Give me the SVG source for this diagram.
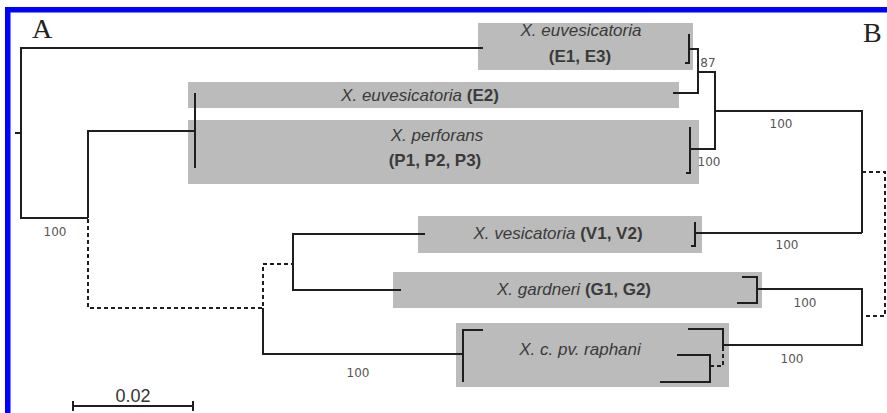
<svg xmlns="http://www.w3.org/2000/svg" width="887" height="413" viewBox="0 0 887 413">
<style>
.box{fill:#bbbbbb}
.ln{fill:none;stroke:#1e1e1e;stroke-width:2;stroke-linecap:butt}
.ds{fill:none;stroke:#1e1e1e;stroke-width:2;stroke-dasharray:4 3}
.tx{font-family:"Liberation Sans",Arial,sans-serif;font-size:17px;fill:#3a3a3a;text-anchor:middle}
.it{font-style:italic}
.bd{font-weight:bold}
.bs{font-family:"DejaVu Sans",sans-serif;font-size:12px;fill:#555;text-anchor:middle}
.big{font-family:"Liberation Serif",serif;font-size:28px;fill:#222}
</style>
<rect width="887" height="413" fill="#fff"/>
<rect x="5" y="7" width="882" height="5.5" fill="#0000ff"/>
<rect x="5" y="7" width="5.5" height="406" fill="#0000ff"/>
<text class="big" x="32" y="38">A</text>
<text class="big" x="863" y="42">B</text>

<g id="clade-E1E3">
<rect class="box" x="478" y="23" width="215" height="47"/>
<text class="tx it" x="581" y="36">X. euvesicatoria</text>
<text class="tx bd" x="580" y="62">(E1, E3)</text>
</g>
<g id="clade-E2">
<rect class="box" x="188" y="82" width="491" height="26"/>
<text class="tx" x="420" y="101"><tspan class="it">X. euvesicatoria</tspan> <tspan class="bd">(E2)</tspan></text>
</g>
<g id="clade-P">
<rect class="box" x="188" y="120" width="511" height="64"/>
<text class="tx it" x="437" y="141">X. perforans</text>
<text class="tx bd" x="435" y="166">(P1, P2, P3)</text>
</g>
<g id="clade-V">
<rect class="box" x="418" y="216" width="284" height="37"/>
<text class="tx" x="558" y="239"><tspan class="it">X. vesicatoria</tspan> <tspan class="bd">(V1, V2)</tspan></text>
</g>
<g id="clade-G">
<rect class="box" x="393" y="272" width="369" height="36"/>
<text class="tx" x="574" y="295"><tspan class="it">X. gardneri</tspan> <tspan class="bd">(G1, G2)</tspan></text>
</g>
<g id="clade-R">
<rect class="box" x="456" y="323" width="273" height="64"/>
<text class="tx it" x="580" y="355">X. c. pv. raphani</text>
</g>

<g id="connectors">
<path class="ln" d="M21,48 H483 M21,47 V218 H88 M15,133 H21 M88,218 V131 H195 M195,93 V168"/>
<path class="ds" d="M88,219 V308 H263 V264 H293"/>
<path class="ln" d="M293,233 V291 M293,234 H425 M293,290 H401"/>
<path class="ln" d="M263,308 V354 H463 M463,329 V382 M462,330 H483"/>
<path class="ln" d="M685,63 H689 V34 M689,49 H698 M698,48 V93 M673,93 H699 M698,72 H716 M715,72 V149 M689,149 H716 M690,127 V173 H686"/>
<path class="ln" d="M715,111 H862 V233 M695,233 H862 M695,222 V246 H691"/>
<path class="ds" d="M862,172 H885 V316 H862"/>
<path class="ln" d="M862,288 V346 M757,289 H862 M723,345 H862"/>
<path class="ln" d="M742,277 H757 V303 H737"/>
<path class="ln" d="M688,329 H723 V347 M677,355 H710 V382 H660"/>
<path class="ds" d="M723,347 V366 H710"/>
<path class="ln" d="M73,406 H193 M73,401 V411 M193,401 V411"/>
</g>

<g id="labels">
<text class="bs" x="55" y="236">100</text>
<text class="bs" x="709" y="166">100</text>
<text class="bs" x="708" y="67">87</text>
<text class="bs" x="781" y="128">100</text>
<text class="bs" x="787" y="249">100</text>
<text class="bs" x="805" y="307">100</text>
<text class="bs" x="792" y="363">100</text>
<text class="bs" x="358" y="377">100</text>
<text x="133" y="402" style="font-family:'Liberation Sans',Arial,sans-serif;font-size:18px;fill:#333;text-anchor:middle">0.02</text>
</g>
</svg>
